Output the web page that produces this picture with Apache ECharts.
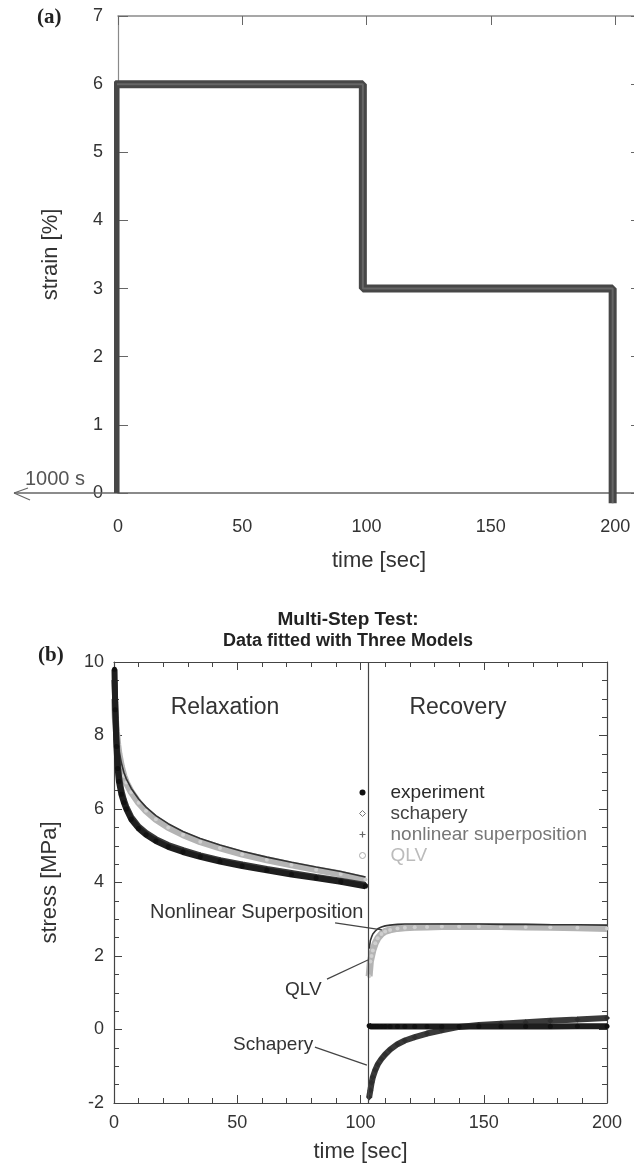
<!DOCTYPE html>
<html>
<head>
<meta charset="utf-8">
<script src="https://cdn.jsdelivr.net/npm/echarts@6/dist/echarts.min.js"></script>
<style>
  html, body { margin: 0; padding: 0; background: #fff; }
  #wrap { position: relative; width: 634px; height: 1169px; }
  #axes, #chart { position: absolute; left: 0; top: 0; width: 634px; height: 1169px; }
</style>
</head>
<body>
<div id="wrap">
  <div id="axes"></div>
  <div id="chart"></div>
</div>
<script>
// panel (a): strain history
const stepTime = [-1, -1, 98.5, 98.5, 199, 199]
const stepStrain = [0, 6, 6, 3, 3, -0.15]

// panel (b): relaxation part
const relaxTime = [0.2, 0.5, 1, 1.5, 2, 3, 4, 5, 7, 10, 13, 17, 22, 28, 35, 43, 52, 62, 72, 82, 92, 102]
const expRelax = [9.8, 8.7, 7.7, 7.1, 6.75, 6.4, 6.18, 6.0, 5.72, 5.47, 5.3, 5.13, 4.97, 4.83, 4.7, 4.57, 4.45, 4.33, 4.22, 4.12, 4.02, 3.9]
const schRelax = [9.5, 8.9, 7.9, 7.3, 6.9, 6.5, 6.25, 6.06, 5.78, 5.52, 5.35, 5.18, 5.02, 4.88, 4.74, 4.61, 4.49, 4.37, 4.26, 4.15, 4.05, 3.93]
const nlsRelax = [9.2, 8.6, 8.2, 7.85, 7.6, 7.25, 7.0, 6.82, 6.56, 6.27, 6.05, 5.82, 5.6, 5.39, 5.2, 5.02, 4.85, 4.69, 4.55, 4.42, 4.3, 4.15]
const qlvRelax = [9.0, 8.5, 8.1, 7.75, 7.5, 7.15, 6.9, 6.72, 6.46, 6.17, 5.95, 5.72, 5.5, 5.3, 5.11, 4.94, 4.77, 4.62, 4.48, 4.35, 4.23, 4.08]

// panel (b): recovery part
const recovTime = [103.5, 104, 104.5, 105, 106, 107, 108.5, 110, 112, 115, 118, 122, 127, 133, 140, 148, 157, 167, 177, 188, 200]
const expRecov = [0.1, 0.09, 0.08, 0.08, 0.08, 0.08, 0.08, 0.08, 0.08, 0.08, 0.08, 0.08, 0.08, 0.08, 0.08, 0.08, 0.08, 0.08, 0.08, 0.09, 0.09]
const schRecov = [-1.85, -1.65, -1.45, -1.3, -1.1, -0.95, -0.8, -0.68, -0.55, -0.4, -0.3, -0.21, -0.11, -0.02, 0.07, 0.12, 0.16, 0.2, 0.24, 0.27, 0.31]
const nlsRecov = [2.2, 2.42, 2.52, 2.6, 2.68, 2.74, 2.79, 2.82, 2.84, 2.86, 2.87, 2.87, 2.87, 2.87, 2.87, 2.87, 2.86, 2.86, 2.85, 2.85, 2.84]
const qlvRecov = [1.45, 1.85, 2.0, 2.15, 2.35, 2.48, 2.6, 2.67, 2.71, 2.75, 2.77, 2.78, 2.79, 2.8, 2.8, 2.8, 2.8, 2.79, 2.78, 2.77, 2.75]

const stepBoundary = 103

function pairs(xs, ys) {
  return xs.map((x, i) => [x, ys[i]])
}
function joinParts(relax, recov) {
  return pairs(relaxTime, relax).concat(['-'], pairs(recovTime, recov))
}

const font = 'Liberation Sans, Arial, sans-serif'
const textCol = '#333'
// filled shapes for the legend marks
const plusPath = 'path://M4,0H6V4H10V6H6V10H4V6H0V4H4Z'
const diamondPath = 'path://M5,0L10,5L5,10L0,5Z'

const grids = [
  { left: 118, top: 16, width: 522, height: 477, outerBoundsMode: 'none' },
  { left: 114, top: 662, width: 493, height: 441, outerBoundsMode: 'none' },
]

const xAxes = [
  {
    gridIndex: 0, type: 'value', min: 0, max: 210, interval: 50,
    axisLine: { show: true, onZero: false, lineStyle: { color: '#8a8a8a', width: 2 } },
    axisTick: { show: false },
    splitLine: { show: false },
    axisLabel: { fontSize: 18, color: textCol, margin: 25 },
    name: 'time [sec]', nameLocation: 'middle', nameGap: 57,
    nameTextStyle: { fontSize: 22, color: textCol },
  },
  {
    gridIndex: 0, type: 'value', min: 0, max: 210, interval: 50, position: 'top',
    axisLine: { show: true, onZero: false, lineStyle: { color: '#8a8a8a', width: 1.5 } },
    axisTick: { show: true, inside: true, length: 9, lineStyle: { color: '#666' } },
    axisLabel: { show: false }, splitLine: { show: false },
  },
  {
    gridIndex: 1, type: 'value', min: 0, max: 200, interval: 50,
    axisLine: { show: true, onZero: false, lineStyle: { color: '#444', width: 1.2 } },
    axisTick: { show: true, inside: true, length: 8, lineStyle: { color: '#444' } },
    minorTick: { show: true, splitNumber: 5, length: 5, lineStyle: { color: '#444' } },
    splitLine: { show: false },
    axisLabel: { fontSize: 18, color: textCol, margin: 11 },
    name: 'time [sec]', nameLocation: 'middle', nameGap: 38,
    nameTextStyle: { fontSize: 22, color: textCol },
  },
  {
    gridIndex: 1, type: 'value', min: 0, max: 200, interval: 50, position: 'top',
    axisLine: { show: true, onZero: false, lineStyle: { color: '#444', width: 1.2 } },
    axisTick: { show: true, inside: true, length: 8, lineStyle: { color: '#444' } },
    minorTick: { show: true, splitNumber: 5, length: 5, lineStyle: { color: '#444' } },
    axisLabel: { show: false }, splitLine: { show: false },
  },
]

const yAxes = [
  {
    gridIndex: 0, type: 'value', min: 0, max: 7, interval: 1,
    axisLine: { show: true, onZero: false, lineStyle: { color: '#8a8a8a', width: 1.2 } },
    axisTick: { show: true, inside: true, length: 10, lineStyle: { color: '#666' } },
    splitLine: { show: false },
    axisLabel: { fontSize: 18, color: textCol, margin: 15 },
    name: 'strain [%]', nameLocation: 'middle', nameGap: 56,
    nameTextStyle: { fontSize: 22, color: textCol },
  },
  {
    gridIndex: 0, type: 'value', min: 0, max: 7, interval: 1, position: 'right',
    axisLine: { show: false, onZero: false },
    axisTick: { show: true, inside: true, length: 9, lineStyle: { color: '#666' } },
    axisLabel: { show: false }, splitLine: { show: false },
  },
  {
    gridIndex: 1, type: 'value', min: -2, max: 10, interval: 2,
    axisLine: { show: true, onZero: false, lineStyle: { color: '#444', width: 1.2 } },
    axisTick: { show: true, inside: true, length: 8, lineStyle: { color: '#444' } },
    minorTick: { show: true, splitNumber: 4, length: 5, lineStyle: { color: '#444' } },
    splitLine: { show: false },
    axisLabel: { fontSize: 18, color: textCol, margin: 10 },
    name: 'stress [MPa]', nameLocation: 'middle', nameGap: 53,
    nameTextStyle: { fontSize: 22, color: textCol },
  },
  {
    gridIndex: 1, type: 'value', min: -2, max: 10, interval: 2, position: 'right',
    axisLine: { show: true, onZero: false, lineStyle: { color: '#444', width: 1.2 } },
    axisTick: { show: true, inside: true, length: 8, lineStyle: { color: '#444' } },
    minorTick: { show: true, splitNumber: 4, length: 5, lineStyle: { color: '#444' } },
    axisLabel: { show: false }, splitLine: { show: false },
  },
]

// bottom layer: frames, ticks and tick labels only (ticks went missing when
// drawn in the same instance as the series)
const axesChart = echarts.init(document.getElementById('axes'))
axesChart.setOption({
  backgroundColor: '#fff',
  animation: false,
  textStyle: { fontFamily: font },
  grid: grids,
  xAxis: xAxes,
  yAxis: yAxes,
  series: [],
})

// top layer: same scales with hidden axes, plus data, legend and notes
const chart = echarts.init(document.getElementById('chart'))
chart.setOption({
  backgroundColor: 'transparent',
  animation: false,
  textStyle: { fontFamily: font },
  title: {
    text: 'Multi-Step Test:',
    subtext: 'Data fitted with Three Models',
    left: 343,
    top: 605,
    textAlign: 'center',
    itemGap: 3,
    textStyle: { fontSize: 19, fontWeight: 'bold', color: '#222' },
    subtextStyle: { fontSize: 18, fontWeight: 'bold', color: '#222' },
  },
  legend: {
    orient: 'vertical',
    left: 354,
    top: 778,
    itemWidth: 46,
    itemHeight: 6,
    itemGap: 2,
    textStyle: { fontSize: 19 },
    data: [
      { name: 'experiment', icon: 'circle', itemStyle: { color: '#111' }, textStyle: { color: '#2a2a2a' } },
      { name: 'schapery', icon: diamondPath, itemStyle: { color: '#fff', borderColor: '#777', borderWidth: 1 }, textStyle: { color: '#444' } },
      { name: 'nonlinear superposition', icon: plusPath, itemStyle: { color: '#666' }, textStyle: { color: '#777' } },
      { name: 'QLV', icon: 'circle', itemStyle: { color: '#fff', borderColor: '#aaa', borderWidth: 1 }, textStyle: { color: '#bbb' } },
    ],
  },
  grid: grids,
  xAxis: xAxes.map((a) => Object.assign({}, a, { show: false })),
  yAxis: yAxes.map((a) => Object.assign({}, a, { show: false })),
  series: [
    {
      name: 'strain', type: 'line', xAxisIndex: 0, yAxisIndex: 0,
      data: pairs(stepTime, stepStrain), symbol: 'none', clip: false,
      lineStyle: { color: '#474747', width: 8 },
      z: 3,
    },
    {
      name: 'strain-core', type: 'line', xAxisIndex: 0, yAxisIndex: 0,
      data: pairs(stepTime, stepStrain), symbol: 'none', clip: false,
      lineStyle: { color: '#666', width: 2 },
      z: 4,
    },
    {
      name: 'QLV', type: 'line', xAxisIndex: 2, yAxisIndex: 2,
      data: joinParts(qlvRelax, qlvRecov),
      symbol: 'circle', symbolSize: 4,
      itemStyle: { color: '#d0d0d0' },
      lineStyle: { color: '#b4b4b4', width: 7 },
      z: 2,
    },
    {
      name: 'nonlinear superposition', type: 'line', xAxisIndex: 2, yAxisIndex: 2,
      data: joinParts(nlsRelax, nlsRecov),
      symbol: 'none',
      itemStyle: { color: '#444' },
      lineStyle: { color: '#333', width: 1.6 },
      z: 3,
    },
    {
      name: 'schapery', type: 'line', xAxisIndex: 2, yAxisIndex: 2,
      data: joinParts(schRelax, schRecov),
      symbol: 'diamond', symbolSize: 6,
      itemStyle: { color: '#2e2e2e' },
      lineStyle: { color: '#3a3a3a', width: 6 },
      z: 4,
    },
    {
      name: 'experiment', type: 'line', xAxisIndex: 2, yAxisIndex: 2,
      data: joinParts(expRelax, expRecov),
      symbol: 'circle', symbolSize: 5,
      itemStyle: { color: '#111' },
      lineStyle: { color: '#1e1e1e', width: 6 },
      z: 5,
      markLine: {
        silent: true, symbol: 'none', animation: false,
        label: { show: false },
        lineStyle: { color: '#444', width: 1.2, type: 'solid' },
        data: [
          { xAxis: stepBoundary },
          [{ coord: [89.7, 2.9] }, { coord: [108.7, 2.71] }],
          [{ coord: [86.4, 1.37] }, { coord: [103.0, 1.89] }],
          [{ coord: [81.5, -0.48] }, { coord: [102.6, -0.97] }],
        ],
      },
    },
  ],
  graphic: [
    { type: 'text', left: 37, top: 7, style: { text: '(a)', font: 'bold 21px "Liberation Serif", serif', fill: '#222' } },
    { type: 'text', left: 38, top: 645, style: { text: '(b)', font: 'bold 21px "Liberation Serif", serif', fill: '#222' } },
    { type: 'text', left: 25, top: 469, style: { text: '1000 s', font: '20px "Liberation Sans", Arial', fill: '#555' } },
    { type: 'line', shape: { x1: 118, y1: 493, x2: 14, y2: 493 }, style: { stroke: '#666', lineWidth: 1.5 } },
    { type: 'line', shape: { x1: 14, y1: 493, x2: 28, y2: 488 }, style: { stroke: '#666', lineWidth: 1.2 } },
    { type: 'line', shape: { x1: 14, y1: 493, x2: 30, y2: 500 }, style: { stroke: '#666', lineWidth: 1.2 } },
    { type: 'text', x: 225, y: 708, style: { text: 'Relaxation', font: '23px "Liberation Sans", Arial', fill: textCol, align: 'center', verticalAlign: 'middle' } },
    { type: 'text', x: 458, y: 708, style: { text: 'Recovery', font: '23px "Liberation Sans", Arial', fill: textCol, align: 'center', verticalAlign: 'middle' } },
    { type: 'text', x: 150, y: 912, style: { text: 'Nonlinear Superposition', font: '20px "Liberation Sans", Arial', fill: textCol, verticalAlign: 'middle' } },
    { type: 'text', x: 285, y: 990, style: { text: 'QLV', font: '19px "Liberation Sans", Arial', fill: textCol, verticalAlign: 'middle' } },
    { type: 'text', x: 233, y: 1045, style: { text: 'Schapery', font: '19px "Liberation Sans", Arial', fill: textCol, verticalAlign: 'middle' } },
  ],
})
</script>
</body>
</html>
